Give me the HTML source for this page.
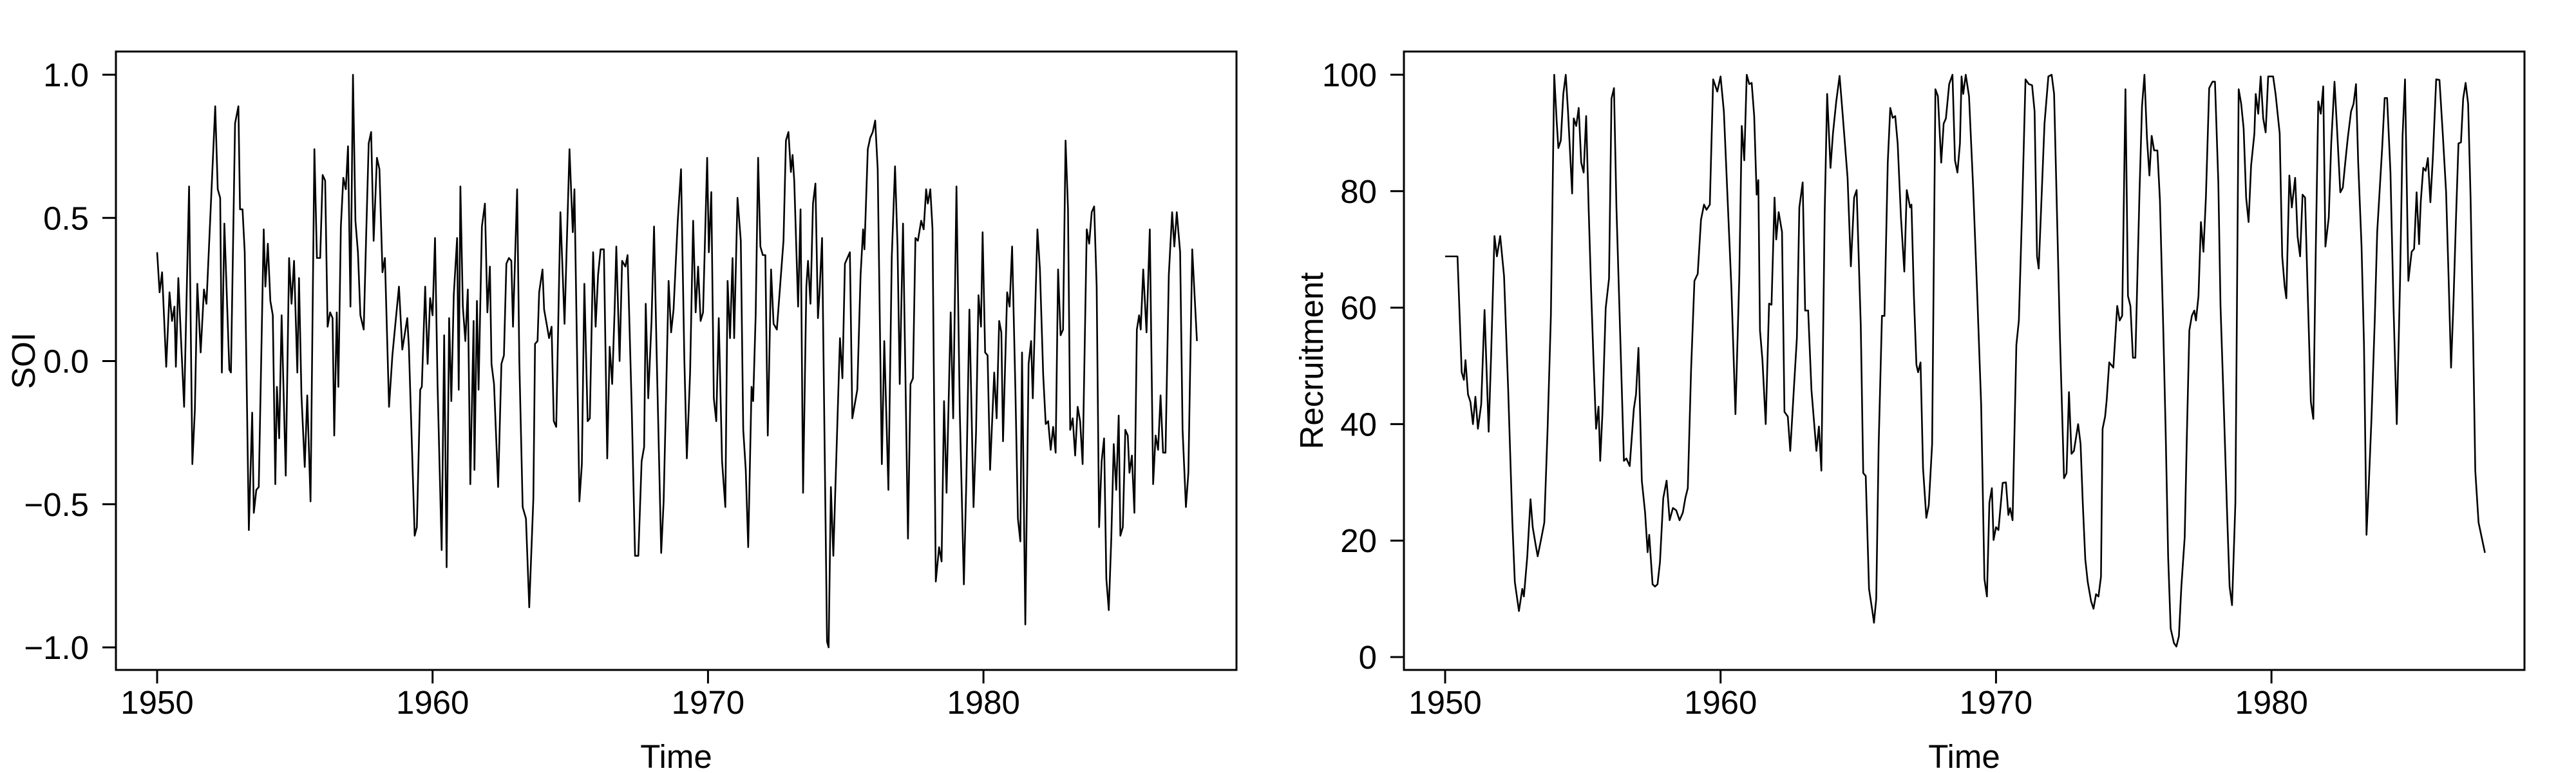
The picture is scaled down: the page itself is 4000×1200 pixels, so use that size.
<!DOCTYPE html>
<html><head><meta charset="utf-8"><style>
html,body{margin:0;padding:0;background:#fff;}
svg{display:block;font-family:"Liberation Sans",Arial,sans-serif;}
</style></head><body>
<svg id="chart" width="4000" height="1200" viewBox="0 0 4000 1200" xmlns="http://www.w3.org/2000/svg"></svg>
<script>
const soiTime=[1950.00,1950.09,1950.18,1950.33,1950.45,1950.54,1950.63,1950.68,1950.77,1950.86,1950.98,1951.16,1951.28,1951.37,1951.46,1951.58,1951.70,1951.79,1952.11,1952.20,1952.29,1952.35,1952.44,1952.62,1952.68,1952.83,1952.95,1953.01,1953.10,1953.18,1953.33,1953.45,1953.51,1953.60,1953.69,1953.87,1953.93,1954.02,1954.11,1954.20,1954.29,1954.35,1954.43,1954.52,1954.67,1954.79,1954.88,1954.97,1955.09,1955.15,1955.24,1955.36,1955.45,1955.57,1955.71,1955.80,1955.92,1956.01,1956.10,1956.19,1956.28,1956.37,1956.43,1956.52,1956.58,1956.67,1956.76,1956.85,1956.93,1957.02,1957.11,1957.20,1957.29,1957.38,1957.50,1957.59,1957.68,1957.77,1957.86,1957.98,1958.07,1958.18,1958.27,1958.42,1958.54,1958.63,1958.78,1958.90,1959.08,1959.14,1959.35,1959.43,1959.55,1959.61,1959.73,1959.82,1959.91,1960.00,1960.09,1960.18,1960.33,1960.42,1960.51,1960.60,1960.68,1960.77,1960.89,1960.95,1961.01,1961.10,1961.19,1961.28,1961.37,1961.49,1961.52,1961.61,1961.67,1961.79,1961.90,1961.99,1962.08,1962.14,1962.23,1962.38,1962.50,1962.59,1962.68,1962.77,1962.86,1962.92,1963.07,1963.15,1963.27,1963.39,1963.51,1963.66,1963.72,1963.81,1963.87,1963.99,1964.05,1964.14,1964.23,1964.32,1964.40,1964.49,1964.64,1964.79,1964.97,1965.09,1965.15,1965.33,1965.42,1965.51,1965.63,1965.71,1965.83,1965.92,1966.01,1966.10,1966.22,1966.34,1966.43,1966.52,1966.61,1966.67,1966.79,1966.88,1967.00,1967.08,1967.23,1967.35,1967.47,1967.59,1967.68,1967.74,1967.83,1967.95,1968.04,1968.13,1968.30,1968.39,1968.48,1968.57,1968.66,1968.75,1968.90,1969.02,1969.14,1969.23,1969.35,1969.46,1969.55,1969.64,1969.73,1969.82,1969.97,1970.03,1970.12,1970.21,1970.30,1970.39,1970.51,1970.63,1970.71,1970.80,1970.89,1970.95,1971.07,1971.19,1971.28,1971.37,1971.46,1971.58,1971.64,1971.73,1971.82,1971.90,1971.99,1972.08,1972.17,1972.29,1972.38,1972.50,1972.74,1972.83,1972.92,1973.01,1973.07,1973.13,1973.27,1973.36,1973.45,1973.57,1973.63,1973.72,1973.81,1973.90,1973.99,1974.05,1974.14,1974.32,1974.38,1974.46,1974.55,1974.64,1974.79,1974.88,1974.97,1975.06,1975.15,1975.24,1975.42,1975.54,1975.63,1975.68,1975.80,1975.89,1975.98,1976.07,1976.16,1976.31,1976.40,1976.55,1976.67,1976.79,1976.88,1976.96,1977.08,1977.26,1977.35,1977.44,1977.53,1977.62,1977.74,1977.83,1977.92,1977.98,1978.07,1978.15,1978.27,1978.39,1978.48,1978.57,1978.66,1978.81,1978.90,1979.02,1979.14,1979.29,1979.38,1979.49,1979.64,1979.73,1979.82,1979.91,1979.97,1980.06,1980.15,1980.24,1980.39,1980.48,1980.57,1980.65,1980.71,1980.86,1980.95,1981.04,1981.16,1981.25,1981.34,1981.40,1981.52,1981.64,1981.73,1981.79,1981.96,1982.05,1982.17,1982.26,1982.35,1982.44,1982.53,1982.62,1982.71,1982.80,1982.89,1982.98,1983.07,1983.15,1983.24,1983.33,1983.42,1983.51,1983.60,1983.75,1983.84,1983.93,1984.02,1984.11,1984.20,1984.29,1984.38,1984.46,1984.55,1984.64,1984.73,1984.82,1984.91,1984.97,1985.06,1985.15,1985.24,1985.30,1985.39,1985.48,1985.57,1985.65,1985.71,1985.80,1985.92,1986.04,1986.16,1986.25,1986.34,1986.43,1986.52,1986.61,1986.73,1986.85,1986.93,1987.02,1987.14,1987.23,1987.35,1987.44,1987.58,1987.75];
const soiVal=[0.38,0.24,0.31,-0.02,0.24,0.14,0.19,-0.02,0.29,0.09,-0.16,0.61,-0.36,-0.17,0.27,0.03,0.25,0.20,0.89,0.60,0.57,-0.04,0.48,-0.03,-0.04,0.83,0.89,0.53,0.53,0.38,-0.59,-0.18,-0.53,-0.45,-0.44,0.46,0.26,0.41,0.21,0.16,-0.43,-0.09,-0.27,0.16,-0.40,0.36,0.20,0.35,-0.04,0.29,-0.12,-0.37,-0.12,-0.49,0.74,0.36,0.36,0.65,0.63,0.12,0.17,0.15,-0.26,0.17,-0.09,0.47,0.64,0.60,0.75,0.19,1.00,0.49,0.38,0.16,0.11,0.44,0.76,0.80,0.42,0.71,0.67,0.31,0.36,-0.16,0.02,0.11,0.26,0.04,0.15,0.05,-0.61,-0.58,-0.10,-0.09,0.26,-0.01,0.22,0.16,0.43,-0.08,-0.66,0.09,-0.72,0.15,-0.14,0.23,0.43,-0.10,0.61,0.19,0.07,0.25,-0.43,0.14,-0.38,0.21,-0.10,0.47,0.55,0.17,0.33,-0.01,-0.08,-0.44,-0.01,0.02,0.34,0.36,0.35,0.12,0.60,0.00,-0.51,-0.55,-0.86,-0.48,0.06,0.07,0.24,0.32,0.18,0.13,0.08,0.12,-0.21,-0.23,0.52,0.13,0.74,0.45,0.60,-0.49,-0.36,0.27,-0.21,-0.20,0.38,0.12,0.30,0.39,0.39,-0.34,0.05,-0.08,0.18,0.40,0.00,0.35,0.33,0.37,-0.16,-0.68,-0.68,-0.35,-0.30,0.20,-0.13,0.14,0.47,0.05,-0.67,-0.49,-0.11,0.28,0.10,0.18,0.49,0.67,0.01,-0.34,-0.04,0.49,0.17,0.33,0.14,0.17,0.71,0.38,0.59,-0.13,-0.21,0.15,-0.35,-0.51,0.28,0.08,0.36,0.08,0.57,0.42,-0.24,-0.38,-0.65,-0.09,-0.14,0.16,0.71,0.40,0.37,0.37,-0.26,0.32,0.13,0.11,0.42,0.77,0.80,0.66,0.72,0.63,0.19,0.53,-0.46,0.26,0.35,0.20,0.55,0.62,0.15,0.24,0.43,-0.98,-1.00,-0.44,-0.68,-0.39,0.08,-0.06,0.34,0.36,0.38,-0.20,-0.10,0.30,0.46,0.39,0.74,0.78,0.80,0.84,0.67,-0.36,0.07,-0.45,0.36,0.68,0.40,-0.08,0.48,-0.62,-0.08,-0.06,0.43,0.42,0.49,0.46,0.60,0.55,0.60,0.46,-0.77,-0.65,-0.70,-0.14,-0.46,0.17,-0.20,0.61,-0.17,-0.78,-0.41,0.18,-0.51,-0.25,0.23,0.12,0.45,0.03,0.02,-0.38,-0.04,-0.20,0.14,0.10,-0.28,0.24,0.19,0.40,-0.10,-0.55,-0.63,0.03,-0.92,-0.01,0.07,-0.13,0.46,0.32,-0.05,-0.22,-0.21,-0.31,-0.23,-0.32,0.32,0.09,0.11,0.77,0.53,-0.24,-0.20,-0.33,-0.16,-0.21,-0.36,0.46,0.41,0.52,0.54,0.26,-0.58,-0.35,-0.27,-0.76,-0.87,-0.62,-0.29,-0.45,-0.19,-0.61,-0.58,-0.24,-0.26,-0.39,-0.33,-0.53,0.11,0.16,0.11,0.32,0.10,0.46,-0.43,-0.26,-0.31,-0.12,-0.32,-0.32,0.30,0.52,0.40,0.52,0.38,-0.24,-0.51,-0.39,0.39,0.07];
const recTime=[1950.00,1950.45,1950.60,1950.68,1950.74,1950.83,1950.92,1951.01,1951.10,1951.19,1951.31,1951.43,1951.58,1951.67,1951.79,1951.88,1952.00,1952.14,1952.29,1952.44,1952.53,1952.68,1952.80,1952.86,1952.98,1953.10,1953.18,1953.27,1953.36,1953.48,1953.60,1953.72,1953.84,1953.96,1954.05,1954.11,1954.20,1954.29,1954.38,1954.46,1954.61,1954.67,1954.76,1954.85,1954.94,1955.03,1955.12,1955.21,1955.30,1955.39,1955.48,1955.57,1955.63,1955.71,1955.83,1955.95,1956.04,1956.13,1956.22,1956.34,1956.49,1956.58,1956.70,1956.85,1956.93,1957.02,1957.14,1957.26,1957.35,1957.41,1957.53,1957.62,1957.71,1957.80,1957.92,1958.04,1958.15,1958.27,1958.39,1958.51,1958.63,1958.72,1958.81,1958.93,1959.05,1959.17,1959.29,1959.40,1959.49,1959.61,1959.73,1959.88,1960.00,1960.12,1960.24,1960.39,1960.54,1960.68,1960.77,1960.86,1960.95,1961.04,1961.13,1961.22,1961.31,1961.37,1961.43,1961.52,1961.64,1961.76,1961.85,1961.96,1962.02,1962.11,1962.23,1962.32,1962.44,1962.53,1962.65,1962.77,1962.86,1962.98,1963.07,1963.18,1963.30,1963.48,1963.57,1963.66,1963.78,1963.87,1963.99,1964.08,1964.20,1964.32,1964.43,1964.61,1964.73,1964.85,1964.94,1965.09,1965.18,1965.27,1965.39,1965.51,1965.57,1965.65,1965.74,1965.86,1965.95,1966.07,1966.16,1966.25,1966.34,1966.43,1966.55,1966.67,1966.76,1966.88,1966.93,1967.02,1967.11,1967.17,1967.26,1967.35,1967.47,1967.56,1967.68,1967.80,1967.89,1968.01,1968.10,1968.18,1968.30,1968.42,1968.51,1968.60,1968.69,1968.75,1968.81,1968.90,1969.02,1969.17,1969.32,1969.46,1969.58,1969.67,1969.76,1969.85,1969.91,1970.00,1970.09,1970.24,1970.36,1970.45,1970.51,1970.60,1970.74,1970.83,1970.95,1971.07,1971.19,1971.31,1971.40,1971.49,1971.55,1971.64,1971.76,1971.90,1972.02,1972.11,1972.20,1972.32,1972.47,1972.56,1972.65,1972.74,1972.83,1972.98,1973.07,1973.15,1973.24,1973.33,1973.45,1973.54,1973.63,1973.72,1973.81,1973.87,1973.96,1974.02,1974.11,1974.26,1974.40,1974.49,1974.58,1974.70,1974.79,1974.88,1974.97,1975.06,1975.21,1975.30,1975.39,1975.48,1975.57,1975.65,1975.74,1975.86,1975.95,1976.07,1976.16,1976.25,1976.34,1976.46,1976.55,1976.64,1976.73,1976.85,1976.93,1977.02,1977.11,1977.20,1977.26,1977.35,1977.44,1977.53,1977.62,1977.74,1977.86,1977.95,1978.07,1978.15,1978.27,1978.39,1978.48,1978.57,1978.69,1978.81,1978.90,1978.99,1979.08,1979.17,1979.26,1979.38,1979.43,1979.52,1979.61,1979.70,1979.79,1979.88,1979.97,1980.06,1980.15,1980.30,1980.39,1980.48,1980.54,1980.65,1980.74,1980.86,1980.95,1981.04,1981.13,1981.22,1981.31,1981.43,1981.52,1981.61,1981.70,1981.79,1981.88,1981.96,1982.08,1982.17,1982.29,1982.38,1982.50,1982.59,1982.68,1982.77,1982.89,1982.98,1983.07,1983.15,1983.27,1983.36,1983.45,1983.54,1983.63,1983.75,1983.84,1984.02,1984.11,1984.20,1984.32,1984.43,1984.55,1984.67,1984.76,1984.85,1984.97,1985.09,1985.18,1985.27,1985.36,1985.42,1985.51,1985.60,1985.68,1985.77,1985.86,1985.98,1986.10,1986.22,1986.34,1986.43,1986.52,1986.61,1986.70,1986.79,1986.88,1986.96,1987.05,1987.14,1987.23,1987.32,1987.40,1987.52,1987.75];
const recVal=[68.8,68.8,48.9,47.6,51.0,45.1,43.8,40.0,44.7,39.2,43.4,59.6,38.7,51.9,72.3,68.8,72.3,65.4,45.9,23.1,12.9,7.9,11.7,10.4,17.2,27.1,22.3,19.7,17.3,20.1,23.1,39.2,58.6,100,92.0,87.4,88.7,96.7,100,93.7,79.6,92.5,91.2,94.3,84.9,83.2,92.9,77.2,62.9,50.6,39.2,43.0,33.7,41.7,59.9,65.0,95.9,97.7,77.2,57.8,33.7,34.1,32.8,42.6,45.1,53.1,30.3,24.8,18.0,21.0,12.5,12.1,12.5,16.3,27.3,30.3,23.5,25.6,25.2,23.5,24.8,27.3,29.0,49.3,64.6,65.8,75.1,77.7,76.8,77.7,99.2,97.1,99.7,93.7,80.2,63.7,41.7,65.4,91.2,85.3,100,98.4,98.6,92.9,79.4,81.9,56.1,51.0,40.0,60.7,60.5,78.9,71.7,76.4,73.0,42.1,41.3,35.4,45.1,54.8,77.2,81.5,59.5,59.5,45.9,35.4,39.6,32.0,76.4,96.7,84.0,89.9,95.4,99.8,93.3,82.3,67.1,78.9,80.2,56.9,31.6,31.1,11.7,7.9,5.9,10.0,36.6,58.6,58.6,84.9,94.3,92.6,92.9,88.2,75.5,66.2,80.2,77.2,77.7,62.0,50.2,48.9,50.6,32.4,23.9,26.1,36.6,97.5,96.3,84.9,91.6,92.5,98.4,100,85.3,83.2,88.2,99.7,96.7,100,96.3,80.6,62.0,43.4,13.4,10.4,26.5,29.0,20.1,22.3,21.8,29.9,30.0,24.4,25.6,23.5,53.6,57.8,77.2,99.2,98.4,98.2,93.7,68.8,66.7,77.2,91.6,99.7,100,96.7,78.9,55.2,30.7,31.6,45.5,34.9,35.4,40.0,36.6,26.5,16.8,12.9,9.6,8.3,10.8,10.4,13.8,39.2,41.3,44.2,50.6,49.7,60.3,57.8,58.6,97.5,62.0,60.3,51.4,51.4,79.8,94.6,100,89.1,82.7,89.5,87.0,87.0,78.5,56.9,38.3,17.2,4.9,2.4,1.8,3.6,12.1,20.6,38.3,56.1,58.6,59.5,57.8,62.0,74.7,69.6,78.9,97.7,98.8,98.8,81.5,60.3,43.0,24.8,12.1,8.9,26.5,97.5,95.0,90.8,78.9,74.7,84.4,89.9,96.7,93.3,99.7,92.5,90.1,99.7,99.7,99.7,96.7,89.9,68.8,63.7,61.6,82.7,77.2,82.3,72.2,68.8,79.4,78.9,63.7,43.8,40.9,70.5,95.4,93.3,98.0,70.5,75.5,88.2,98.8,90.8,79.8,80.6,84.9,89.1,93.7,95.0,98.4,84.9,70.5,53.6,21.0,30.3,40.9,57.8,73.0,87.4,96.0,96.0,83.2,60.3,40.0,64.6,89.5,99.2,64.6,69.6,70.1,79.8,70.9,78.1,84.0,83.5,85.7,78.1,85.7,99.2,99.1,89.9,79.8,65.4,49.7,61.2,75.5,88.2,88.4,95.9,98.6,95.0,78.9,55.2,32.0,23.1,17.9];
const xTicks=[1950,1960,1970,1980];
const soiTicks=[-1.0,-0.5,0.0,0.5,1.0];
const soiTickLabels=["\u22121.0","\u22120.5","0.0","0.5","1.0"];
const recTicks=[0,20,40,60,80,100];
const recTickLabels=["0","20","40","60","80","100"];

const NS="http://www.w3.org/2000/svg";
const svg=document.getElementById('chart');
function mk(tag,attrs,parent){const e=document.createElementNS(NS,tag);for(const k in attrs)e.setAttribute(k,attrs[k]);(parent||svg).appendChild(e);return e;}

function panel(ox,name,times,vals,yMap,yTicks,yLabels,ylab){
  const g=mk('g',{});
  
  
  const xMap=t=>ox+244+(t-1950)*42.77;
  const box=mk('rect',{x:ox+180,y:80,width:1740,height:960,fill:'none',stroke:'#000','stroke-width':3},g);
  
  
  let d='';
  for(let i=0;i<times.length;i++){d+=(i?'L':'M')+xMap(times[i]).toFixed(1)+','+yMap(vals[i]).toFixed(1);}
  const line=mk('path',{d:d,fill:'none',stroke:'#000','stroke-width':2.6,'stroke-linejoin':'round'},g);
  
  
  const xa=mk('g',{},g);
  
  
  mk('line',{x1:xMap(xTicks[0]),x2:xMap(xTicks[xTicks.length-1]),y1:1040,y2:1040,stroke:'#000','stroke-width':3},xa);
  xTicks.forEach(t=>{
    mk('line',{x1:xMap(t),x2:xMap(t),y1:1040,y2:1061,stroke:'#000','stroke-width':3},xa);
    const tx=mk('text',{x:xMap(t),y:1108,'font-size':51,'text-anchor':'middle'},xa);
    tx.textContent=t;
    
    
  });
  const ya=mk('g',{},g);
  
  
  mk('line',{x1:ox+180,x2:ox+180,y1:yMap(yTicks[0]),y2:yMap(yTicks[yTicks.length-1]),stroke:'#000','stroke-width':3},ya);
  yTicks.forEach((v,i)=>{
    mk('line',{x1:ox+159,x2:ox+180,y1:yMap(v),y2:yMap(v),stroke:'#000','stroke-width':3},ya);
    const tx=mk('text',{x:ox+138,y:yMap(v)+18,'font-size':51,'text-anchor':'end'},ya);
    tx.textContent=yLabels[i];
    
    
  });
  const xt=mk('text',{x:ox+1050,y:1192,'font-size':51,'text-anchor':'middle'},g);
  xt.textContent='Time';
  
  
  const yt=mk('text',{x:0,y:0,'font-size':51,'text-anchor':'middle',transform:'translate('+(ox+54)+',560) rotate(-90)'},g);
  yt.textContent=ylab;
  
  
}
panel(0,'soi',soiTime,soiVal,v=>560.5-v*444.5,soiTicks,soiTickLabels,'SOI');
panel(2000,'recruitment',recTime,recVal,v=>1020-v*9.04,recTicks,recTickLabels,'Recruitment');
</script>
</body></html>
